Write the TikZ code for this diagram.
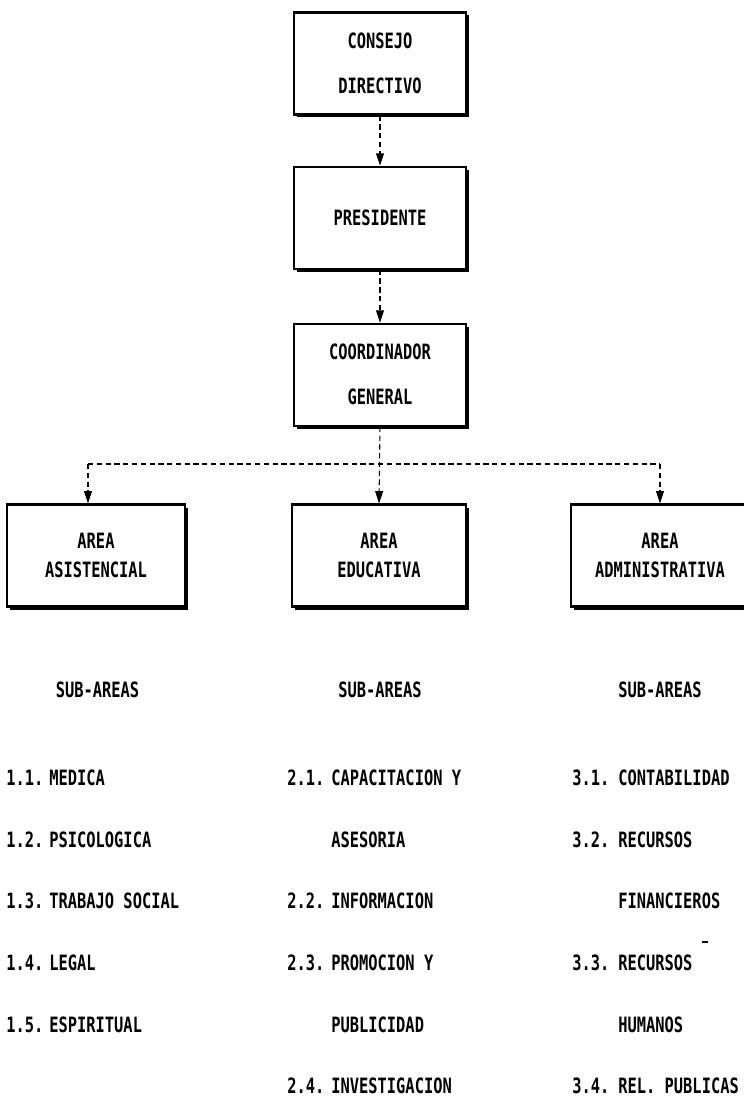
\documentclass[tikz,border=0pt]{standalone}
\usepackage{fontspec}
\newfontfamily\orgfont{DejaVu Sans Mono}[FakeStretch=0.73]
\usepackage{tikz}
\usetikzlibrary{shapes,arrows.meta,positioning,shadows,calc}

\tikzset{
    orgbox/.style={draw, line width=1.2pt, fill=white, align=center,
        minimum width=3.44cm, minimum height=2.04cm,
        drop shadow={shadow xshift=0.06cm, shadow yshift=-0.06cm, opacity=1, fill=black}},
    topfont/.style={font=\orgfont\bfseries\fontsize{12}{25.5}\selectfont},
    areafont/.style={font=\orgfont\bfseries\fontsize{12}{16.4}\selectfont},
    link/.style={line width=0.6pt, dash pattern=on 3pt off 2pt},
    tip/.style={-{Triangle[width=4.5pt,length=7pt]}},
    item/.style={font=\orgfont\bfseries\fontsize{12}{14}\selectfont, anchor=west,
        inner sep=0pt, text height=8.75pt, text depth=0pt}
}

\begin{document}
\begin{tikzpicture}
    \useasboundingbox (0,0) rectangle (14.86,-22);

    % chain at the top
    \node[orgbox, topfont] (consejo) at (7.6,-1.27) {CONSEJO\\DIRECTIVO};
    \node[orgbox, topfont, below=1cm of consejo] (presidente) {PRESIDENTE};
    \node[orgbox, topfont, below=1.06cm of presidente] (coord) {COORDINADOR\\GENERAL};

    % areas
    \node[orgbox, areafont, minimum width=3.56cm] (asist) at (1.92,-11.11) {AREA\\ASISTENCIAL};
    \node[orgbox, areafont, minimum width=3.48cm] (educ) at (7.58,-11.11) {AREA\\EDUCATIVA};
    \node[orgbox, areafont, minimum width=3.56cm] (admin) at (13.2,-11.11) {AREA\\ADMINISTRATIVA};

    \draw[link, tip] (consejo) -- (presidente);
    \draw[link, tip] (presidente) -- (coord);
    \draw[link, tip] (coord.south) -- (educ.north);

    \coordinate (jl) at (1.76,-9.28);
    \coordinate (jr) at (13.2,-9.28);
    \draw[link] (jl) -- (jr);
    \draw[link, tip] (jl) -- (jl |- asist.north);
    \draw[link, tip] (jr) -- (admin.north);

    % sub-areas
    \node[item, anchor=center] (sub1) at (1.95,-13.8) {SUB-AREAS};
    \node[item, anchor=center] (sub2) at (7.6,-13.8) {SUB-AREAS};
    \node[item, anchor=center] (sub3) at (13.2,-13.8) {SUB-AREAS};

    \foreach \n/\t [count=\i] in {1.1./MEDICA, 1.2./PSICOLOGICA, 1.3./TRABAJO SOCIAL,
            1.4./LEGAL, 1.5./ESPIRITUAL} {
        \node[item] (a\i) at (0.12,{-15.56-1.232*(\i-1)}) {\n};
        \node[item] (at\i) at (0.98,{-15.56-1.232*(\i-1)}) {\t};
    }
    \foreach \n/\t [count=\i] in {2.1./CAPACITACION Y, /ASESORIA, 2.2./INFORMACION,
            2.3./PROMOCION Y, /PUBLICIDAD, 2.4./INVESTIGACION} {
        \node[item] (b\i) at (5.74,{-15.56-1.232*(\i-1)}) {\n};
        \node[item] (bt\i) at (6.62,{-15.56-1.232*(\i-1)}) {\t};
    }
    \foreach \n/\t [count=\i] in {3.1./CONTABILIDAD, 3.2./RECURSOS, /FINANCIEROS,
            3.3./RECURSOS, /HUMANOS, 3.4./REL. PUBLICAS} {
        \node[item] (c\i) at (11.44,{-15.56-1.232*(\i-1)}) {\n};
        \node[item] (ct\i) at (12.36,{-15.56-1.232*(\i-1)}) {\t};
    }

    % stray mark
    \draw[line width=0.6pt] (14.04,-18.84) -- (14.16,-18.84);
\end{tikzpicture}
\end{document}
